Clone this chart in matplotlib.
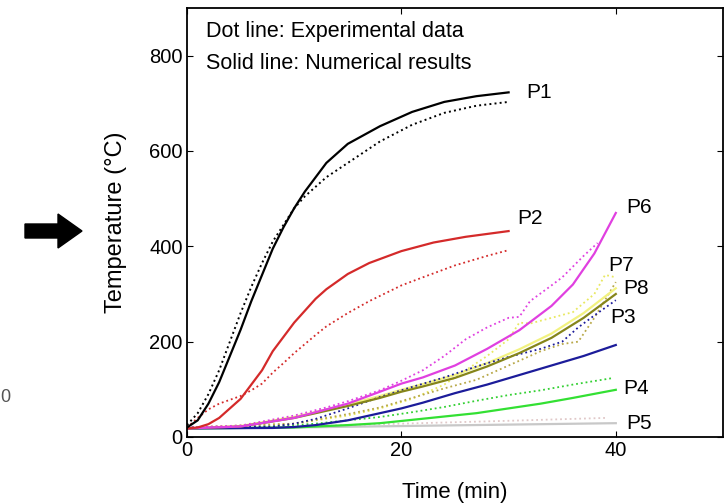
import matplotlib
matplotlib.use("Agg")
import matplotlib.pyplot as plt
from matplotlib.patches import FancyArrow

plt.rcParams['font.family'] = ['Liberation Sans', 'DejaVu Sans']

# P1
t_p1 = [0, 1, 2, 3, 4, 5, 6, 7, 8, 9, 10, 11, 12, 13, 15, 18, 21, 24, 27, 30]
p1_num = [20, 35, 70, 115, 170, 225, 285, 340, 395, 440, 480, 515, 545, 575,
          615, 652, 682, 703, 715, 723]
p1_exp = [25, 50, 90, 140, 200, 260, 315, 365, 410, 445, 480, 505, 525, 545,
          575, 620, 655, 680, 695, 703]

# P2
t_p2 = [0, 1, 2, 3, 4, 5, 6, 7, 8, 9, 10, 11, 12, 13, 15, 17, 20, 23, 26, 30]
p2_num = [18, 20, 27, 40, 60, 80, 110, 140, 180, 210, 240, 265, 290, 310,
          342, 365, 390, 408, 420, 432]
t_p2e = [0, 1, 2, 3, 4, 5, 6, 7, 8, 9, 10, 11, 12, 13, 15, 17, 20, 22, 25, 28, 30]
p2_exp = [20, 40, 58, 70, 78, 86, 98, 112, 135, 155, 176, 195, 214, 232,
          260, 285, 318, 335, 360, 380, 392]

# P6
t_p6 = [0, 5, 10, 15, 18, 20, 22, 25, 28, 31, 34, 36, 38, 40]
p6_num = [18, 22, 40, 70, 95, 112, 125, 150, 185, 224, 275, 320, 385, 470]
t_p6e = [0, 5, 10, 13, 15, 18, 20, 22, 24, 26, 28, 30, 31, 32, 34, 35, 37, 38.3]
p6_exp = [20, 24, 45, 62, 75, 98, 118, 140, 170, 205, 230, 250, 252, 285,
          318, 335, 380, 407]

# P8 / P7
t_p8 = [0, 5, 10, 15, 18, 20, 22, 25, 28, 31, 34, 37, 40]
p8_num = [18, 22, 40, 65, 82, 95, 106, 124, 148, 176, 208, 250, 300]
p7_num = [18, 23, 42, 68, 86, 99, 111, 130, 155, 184, 217, 260, 312]
t_p8e = [0, 10, 15, 18, 21, 24, 27, 30, 33, 35, 36.5, 38, 40]
p8_exp = [20, 28, 48, 62, 82, 102, 120, 150, 180, 195, 200, 250, 325]
t_p7e = [0, 10, 15, 18, 21, 24, 26, 28, 30, 31, 32, 34, 36, 38, 39, 40]
p7_exp = [20, 28, 45, 60, 80, 110, 140, 170, 205, 240, 238, 250, 262, 300,
          340, 335]

# P3
t_p3 = [0, 8, 10, 12, 15, 18, 20, 22, 25, 28, 31, 34, 37, 40]
p3_num = [18, 19, 21, 25, 35, 50, 60, 72, 92, 110, 130, 150, 170, 193]
t_p3e = [0, 8, 10, 12, 15, 18, 21, 24, 27, 30, 33, 35, 36.5, 38, 40]
p3_exp = [20, 22, 28, 38, 60, 84, 105, 125, 148, 168, 185, 200, 230, 255, 287]

# P4
t_p4 = [0, 10, 15, 18, 21, 24, 27, 30, 33, 36, 40]
p4_num = [18, 20, 25, 29, 36, 43, 50, 60, 70, 82, 99]
t_p4e = [0, 8, 12, 15, 18, 21, 24, 27, 30, 33, 36, 39.8]
p4_exp = [20, 22, 28, 35, 42, 52, 63, 76, 88, 98, 110, 124]

# P5
t_p5 = [0, 10, 20, 30, 40]
p5_num = [18, 20, 23, 26, 29]
t_p5e = [0, 10, 20, 30, 39]
p5_exp = [20, 22, 28, 34, 40]

fig = plt.figure(figsize=(7.27, 5.04), dpi=100)
ax = fig.add_axes([187 / 727, 1 - 437 / 504, 536 / 727, 429 / 504])

lw = 1.6
dl = 1.3
ax.plot(t_p5e, p5_exp, ':', color='#e0c8c8', lw=dl)
ax.plot(t_p5, p5_num, '-', color='#c8c8c8', lw=lw)
ax.plot(t_p4e, p4_exp, ':', color='#33d033', lw=dl)
ax.plot(t_p4, p4_num, '-', color='#33e033', lw=lw)
ax.plot(t_p7e, p7_exp, ':', color='#e8e860', lw=dl)
ax.plot(t_p8e, p8_exp, ':', color='#b8a848', lw=dl)
ax.plot(t_p8, p7_num, '-', color='#f2f280', lw=lw)
ax.plot(t_p3e, p3_exp, ':', color='#1c1c9a', lw=dl)
ax.plot(t_p3, p3_num, '-', color='#1c1c9a', lw=lw)
ax.plot(t_p8, p8_num, '-', color='#85851a', lw=lw)
ax.plot(t_p6e, p6_exp, ':', color='#e040e0', lw=dl)
ax.plot(t_p6, p6_num, '-', color='#e040e0', lw=lw)
ax.plot(t_p2e, p2_exp, ':', color='#d42a2a', lw=dl)
ax.plot(t_p2, p2_num, '-', color='#d42a2a', lw=lw)
ax.plot(t_p1, p1_exp, ':', color='black', lw=1.4)
ax.plot(t_p1, p1_num, '-', color='black', lw=lw)

labels = [('P1', 31.6, 722), ('P2', 30.8, 458), ('P6', 41.0, 482),
          ('P7', 39.3, 360), ('P8', 40.7, 312), ('P3', 39.5, 250),
          ('P4', 40.7, 102), ('P5', 41.0, 28)]
for name, x, y in labels:
    ax.text(x, y, name, fontsize=15, va='center', ha='left')

ax.text(0.035, 0.97, "Dot line: Experimental data", transform=ax.transAxes,
        fontsize=15.5, va='top')
ax.text(0.035, 0.895, "Solid line: Numerical results", transform=ax.transAxes,
        fontsize=15.5, va='top')

ax.set_xlim(0, 50)
ax.set_ylim(0, 900)
ax.set_xticks([0, 20, 40])
ax.set_yticks([0, 200, 400, 600, 800])
ax.tick_params(direction='in', top=True, right=True, labelsize=14.5,
               length=4, pad=3)
for s in ax.spines.values():
    s.set_linewidth(1.3)
ax.set_xlabel("Time (min)", fontsize=16, labelpad=16)
ax.set_ylabel("Temperature (°C)", fontsize=17, labelpad=16)

# arrow and cropped neighbour text on the left
fig.patches.append(FancyArrow(25 / 727, 1 - 231 / 504, 33 / 727, 0,
                              width=14 / 504, head_width=34 / 504,
                              head_length=24 / 727, length_includes_head=False,
                              color='black', transform=fig.transFigure))
fig.text(0.001, 1 - 397 / 504, "0", fontsize=13, color='#555555', va='center')

fig.savefig("out.png", dpi=100)
